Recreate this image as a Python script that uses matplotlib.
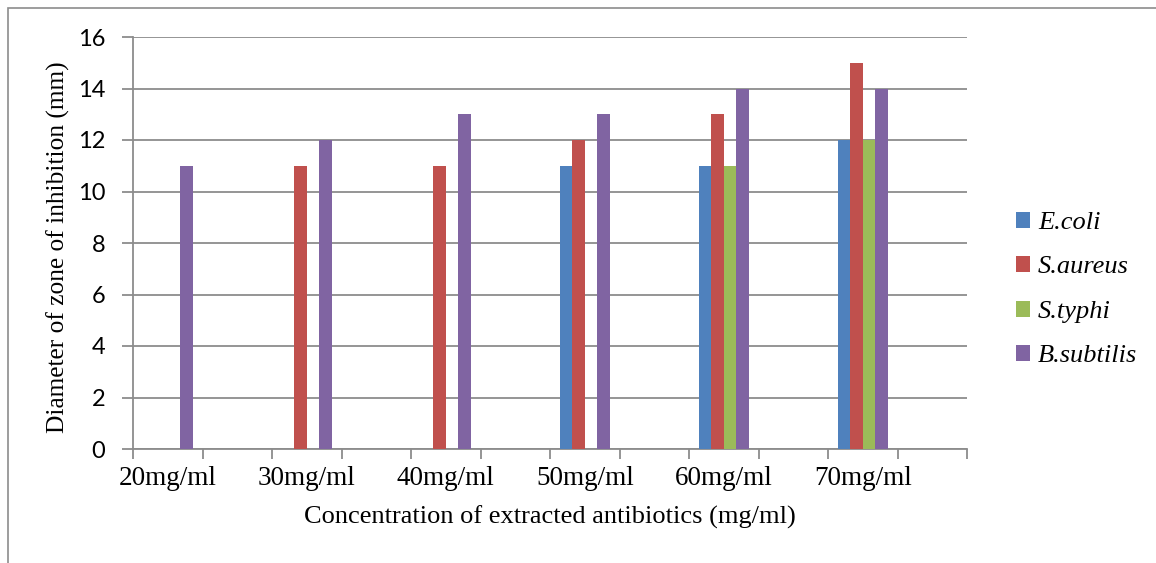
import numpy as np
import matplotlib.pyplot as plt
from matplotlib.patches import Rectangle

# 12 category slots on the axis, only every other one carries a label
labels = ["20mg/ml", "", "30mg/ml", "", "40mg/ml", "", "50mg/ml", "", "60mg/ml", "", "70mg/ml", ""]
series = ["E.coli", "S.aureus", "S.typhi", "B.subtilis"]
ecoli = [0, 0, 0, 0, 0, 0, 11, 0, 11, 0, 12, 0]
saureus = [0, 0, 11, 0, 11, 0, 12, 0, 13, 0, 15, 0]
styphi = [0, 0, 0, 0, 0, 0, 0, 0, 11, 0, 12, 0]
bsubtilis = [11, 0, 12, 0, 13, 0, 13, 0, 14, 0, 14, 0]
colors = ["#4F81BD", "#C0504D", "#9BBB59", "#8064A2"]

fig = plt.figure(figsize=(11.56, 5.63), dpi=100)
ax = fig.add_axes([133/1156, 114/563, 834/1156, 412/563])

x = np.arange(len(labels))
w = 0.18
for i, (name, vals) in enumerate(zip(series, [ecoli, saureus, styphi, bsubtilis])):
    ax.bar(x + (i - 1.5)*w, vals, width=w, color=colors[i], label=name, zorder=3)

ax.set_xlim(-0.5, len(labels) - 0.5)
ax.set_ylim(0, 16)
ax.set_yticks(range(0, 17, 2))
ax.yaxis.grid(True, color="#8c8c8c", linewidth=1.3, zorder=0)

ax.set_xticks(x)
ax.set_xticklabels(labels, fontfamily="Liberation Serif", fontsize=19.5)
ax.set_xticks(np.arange(-0.5, len(labels)), minor=True)
ax.tick_params(axis="x", which="major", length=0, pad=12)
ax.tick_params(axis="x", which="minor", length=7, color="#8c8c8c", width=1.3)
ax.tick_params(axis="y", length=8, color="#8c8c8c", width=1.3, pad=12, labelsize=17)
for t in ax.get_yticklabels():
    t.set_fontfamily("Lato")

for s in ["top", "right"]:
    ax.spines[s].set_visible(False)
for s in ["left", "bottom"]:
    ax.spines[s].set_color("#8c8c8c")
    ax.spines[s].set_linewidth(1.3)

ax.set_xlabel("Concentration of extracted antibiotics (mg/ml)", fontfamily="Liberation Serif", fontsize=19)
ax.set_ylabel("Diameter of zone of inhibition (mm)", fontfamily="Liberation Serif", fontsize=18.3)
ax.xaxis.set_label_coords(0.5, -0.138)
ax.yaxis.set_label_coords(-0.076, 0.49)

leg = fig.legend(loc="upper left", bbox_to_anchor=(992/1156, 1 - 188/563), frameon=False,
                 prop={"family": "Liberation Serif", "style": "italic", "size": 19},
                 handlelength=0.55, handleheight=0.55, handletextpad=0.3, labelspacing=0.84)

# outer chart border
fig.patches.append(Rectangle((8/1156, -0.1), 1.2, 1 - 8/563 + 0.1, transform=fig.transFigure,
                             fill=False, edgecolor="#8c8c8c", linewidth=1.2))

fig.savefig("out.png", dpi=100)
